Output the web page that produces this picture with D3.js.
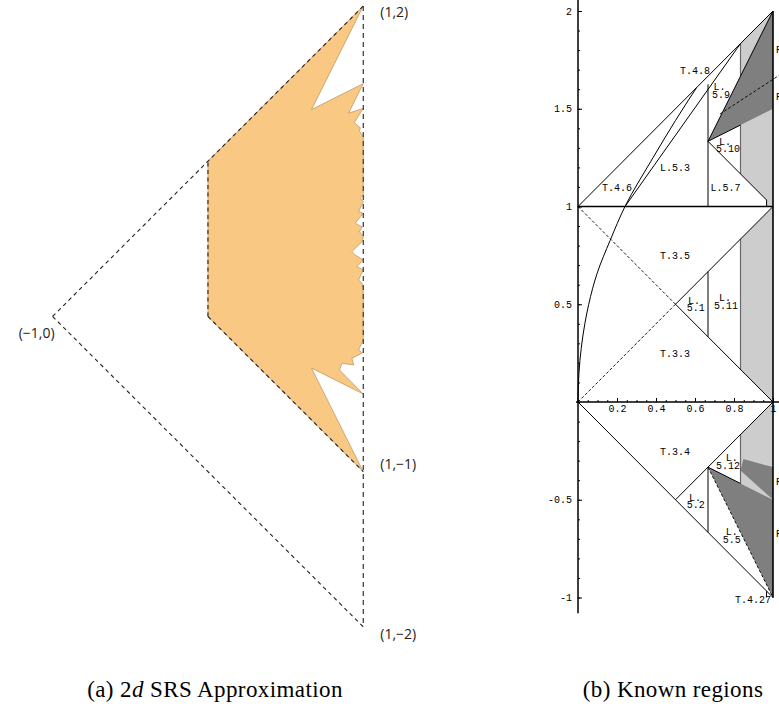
<!DOCTYPE html>
<html>
<head>
<meta charset="utf-8">
<script src="https://cdn.jsdelivr.net/npm/d3@7"></script>
<style>
  body { margin: 0; background: #fff; }
  svg { display: block; }
</style>
</head>
<body>
<svg id="fig" width="779" height="713"></svg>
<script>
// ---- (a) 2d SRS approximation: outline of the approximated region (clockwise from (0,1))
const approxOutline = [
  [0, 1], [1, 2], [0.667, 1.333], [1, 1.5], [0.905, 1.309], [1, 1.341], [0.942, 1.249],
  [0.981, 1.215], [0.975, 1.195], [1, 1.159], [1, 0.783], [0.981, 0.762], [1, 0.740],
  [0.970, 0.675], [1, 0.665], [0.948, 0.601], [0.992, 0.577], [0.976, 0.546], [1, 0.514],
  [0.992, 0.482], [0.927, 0.418], [0.948, 0.396], [1, 0.364], [0.959, 0.321], [1, 0.300],
  [0.970, 0.235], [0.992, 0.214], [1, 0.171], [1, -0.151], [0.970, -0.216], [0.994, -0.235],
  [0.948, -0.259], [0.927, -0.269], [0.938, -0.313], [0.863, -0.302], [0.847, -0.345],
  [1, -0.5], [0.667, -0.333], [1, -1], [0, 0]
];
// dashed outline of the triangle and of the known part
const triangleEdges = [
  [[-1, 0], [1, 2]], [[-1, 0], [1, -2]], [[0, 0], [0, 1]], [[0, 0], [1, -1]]
];
const rightEdge = [[1, 2], [1, -2]];
const cornerLabels = [
  { t: '(1,2)', x: 1, y: 2 },
  { t: '(1,\u22121)', x: 1, y: -1 },
  { t: '(1,\u22122)', x: 1, y: -2 }
];
const cornerShift = [11, -3, 12]; // vertical nudge of each corner label, px
const leftLabel = { t: '(\u22121,0)', x: -1, y: 0 };

// ---- (b) known regions
const lightRegions = [
  [[5/6, 11/6], [1, 2], [1, 1], [0.967, 1], [0.967, 1.033], [5/6, 7/6]],
  [[5/6, 5/6], [1, 1], [1, 0], [5/6, 1/6]],
  [[5/6, -1/6], [1, 0], [1, -0.5], [5/6, -0.4167]]
];
const darkRegions = [
  [[2/3, 4/3], [1, 2], [1, 1.5]],
  [[2/3, -1/3], [1, -0.5], [1, -1]],
  [[0.848, -0.292], [1, -0.333], [1, -0.5], [5/6, -0.35]]
];
const solidEdges = [
  [[0, 1], [1, 2]],
  [[2/3, 1], [2/3, 1.625]],
  [[2/3, 4/3], [0.967, 1.033]], [[0.967, 1.033], [0.967, 1]],
  [[2/3, 4/3], [1, 2]],
  [[2/3, 4/3], [5/6, 1.4167]],
  [[0.5, 0.5], [1, 0]],
  [[0.5, 0.5], [1, 1]],
  [[2/3, 1/3], [2/3, 2/3]],
  [[0, 0], [1, -1]],
  [[0.5, -0.5], [1, 0]],
  [[2/3, -1/3], [2/3, -2/3]],
  [[2/3, -1/3], [5/6, -0.4167]],
  [[0.967, -0.967], [0.967, -1]],
  [[0.241, 1], [5/6, 11/6]]
];
const thickEdges = [[[0, 1], [1, 1]], [[1, -1], [1, 2]]];
const dashedEdges = [
  [[0, 1], [0.5, 0.5]],
  [[0, 0], [0.5, 0.5]],
  [[2/3, -1/3], [1, -1]],
  [[0.728, 1.473], [1.03, 1.67]]
];
const stripEdges = [
  [[5/6, 7/6], [5/6, 1.4167]], [[5/6, 1.667], [5/6, 11/6]],
  [[5/6, 1/6], [5/6, 5/6]], [[5/6, -1/6], [5/6, -0.4167]]
];
const curvePts = [
  [0, 0], [0.005, 0.15], [0.035, 0.40], [0.055, 0.5], [0.098, 0.658], [0.165, 0.827],
  [0.241, 1.0], [0.385, 1.25], [0.50, 1.44], [0.608, 1.608]
];
const regionLabels = [
  { t: 'T.4.8', x: 0.60, y: 1.698 },
  { t: 'L.', x: 0.726, y: 1.616 }, { t: '5.9', x: 0.733, y: 1.575 },
  { t: 'L.', x: 0.754, y: 1.335 }, { t: '5.10', x: 0.769, y: 1.299 },
  { t: 'L.5.3', x: 0.497, y: 1.197 },
  { t: 'T.4.6', x: 0.20, y: 1.095 },
  { t: 'L.5.7', x: 0.757, y: 1.095 },
  { t: 'T.3.5', x: 0.497, y: 0.747 },
  { t: 'L.', x: 0.595, y: 0.517 }, { t: '5.1', x: 0.604, y: 0.481 },
  { t: 'L.', x: 0.754, y: 0.537 }, { t: '5.11', x: 0.759, y: 0.496 },
  { t: 'T.3.3', x: 0.497, y: 0.246 },
  { t: 'T.3.4', x: 0.497, y: -0.254 },
  { t: 'L.', x: 0.788, y: -0.286 }, { t: '5.12', x: 0.769, y: -0.326 },
  { t: 'L.', x: 0.60, y: -0.486 }, { t: '5.2', x: 0.604, y: -0.522 },
  { t: 'L.', x: 0.788, y: -0.663 }, { t: '5.5', x: 0.788, y: -0.701 },
  { t: 'T.4.27', x: 0.897, y: -1.008 }
];
// labels cut off by the right border
const edgeLabels = [
  { t: 'R', x: 1.015, y: 1.804 }, { t: 'R', x: 1.015, y: 1.562 },
  { t: 'R', x: 1.015, y: -0.408 }, { t: 'R', x: 1.015, y: -0.672 }
];
const yTicks = [-1, -0.5, 0.5, 1, 1.5, 2];
const xTicks = [0.2, 0.4, 0.6, 0.8, 1];

const mono = '"Liberation Mono", "DejaVu Sans Mono", monospace';
const svg = d3.select('#fig');

// ===== panel (a)
const xa = d3.scaleLinear().domain([-1, 1]).range([52.6, 363.3]);
const ya = d3.scaleLinear().domain([-2, 2]).range([626.9, 6]);
const ga = svg.append('g').attr('id', 'panel-a');
const lineA = d3.line().x(d => xa(d[0])).y(d => ya(d[1]));

ga.append('path')
  .attr('d', lineA(approxOutline) + 'Z')
  .attr('fill', '#f9c882')
  .attr('stroke', '#a88452')
  .attr('stroke-width', 0.6);

ga.selectAll('path.tri')
  .data(triangleEdges)
  .enter().append('path')
  .attr('class', 'tri')
  .attr('d', lineA)
  .attr('fill', 'none')
  .attr('stroke', '#222')
  .attr('stroke-width', 1.1)
  .attr('stroke-dasharray', '4,3.5');

ga.append('path')
  .attr('d', lineA(rightEdge))
  .attr('fill', 'none')
  .attr('stroke', '#444')
  .attr('stroke-width', 1.3)
  .attr('stroke-dasharray', '5,4');

ga.selectAll('text.corner')
  .data(cornerLabels)
  .enter().append('text')
  .attr('class', 'corner')
  .attr('x', d => xa(d.x) + 17)
  .attr('y', (d, i) => ya(d.y) + cornerShift[i])
  .attr('font-family', '"Open Sans", sans-serif')
  .attr('font-size', 14)
  .attr('fill', '#222')
  .text(d => d.t);

ga.append('text')
  .attr('x', xa(leftLabel.x) + 2)
  .attr('y', ya(leftLabel.y) + 22)
  .attr('text-anchor', 'end')
  .attr('font-family', '"Open Sans", sans-serif')
  .attr('font-size', 14)
  .attr('fill', '#222')
  .text(leftLabel.t);

// ===== panel (b)
const xb = d3.scaleLinear().domain([0, 1]).range([578, 773]);
const yb = d3.scaleLinear().domain([-1, 2]).range([597.5, 11]);
const gb = svg.append('g').attr('id', 'panel-b');
const lineB = d3.line().x(d => xb(d[0])).y(d => yb(d[1]));

gb.selectAll('path.light')
  .data(lightRegions)
  .enter().append('path')
  .attr('class', 'light')
  .attr('d', d => lineB(d) + 'Z')
  .attr('fill', '#cdcdcd');

gb.selectAll('path.dark')
  .data(darkRegions)
  .enter().append('path')
  .attr('class', 'dark')
  .attr('d', d => lineB(d) + 'Z')
  .attr('fill', '#7f7f7f');

gb.selectAll('path.strip')
  .data(stripEdges)
  .enter().append('path')
  .attr('class', 'strip')
  .attr('d', lineB)
  .attr('stroke', '#6a6a6a')
  .attr('stroke-width', 1.2);

gb.selectAll('path.solid')
  .data(solidEdges)
  .enter().append('path')
  .attr('class', 'solid')
  .attr('d', lineB)
  .attr('fill', 'none')
  .attr('stroke', '#000')
  .attr('stroke-width', 1);

gb.selectAll('path.thick')
  .data(thickEdges)
  .enter().append('path')
  .attr('class', 'thick')
  .attr('d', lineB)
  .attr('stroke', '#000')
  .attr('stroke-width', 1.6);

gb.selectAll('path.dashed')
  .data(dashedEdges)
  .enter().append('path')
  .attr('class', 'dashed')
  .attr('d', lineB)
  .attr('fill', 'none')
  .attr('stroke', '#000')
  .attr('stroke-width', 0.9)
  .attr('stroke-dasharray', '3,2');

gb.append('path')
  .attr('d', d3.line().x(d => xb(d[0])).y(d => yb(d[1])).curve(d3.curveMonotoneY)(curvePts))
  .attr('fill', 'none')
  .attr('stroke', '#000')
  .attr('stroke-width', 1);

// axes lines
gb.append('line')
  .attr('x1', xb(0)).attr('x2', xb(0))
  .attr('y1', yb(2.06)).attr('y2', yb(-1.08))
  .attr('stroke', '#000').attr('stroke-width', 1.5);
gb.append('line')
  .attr('x1', xb(-0.01)).attr('x2', 779)
  .attr('y1', yb(0)).attr('y2', yb(0))
  .attr('stroke', '#000').attr('stroke-width', 1.5);

// y axis: ticks point inward
const yAxisG = gb.append('g')
  .attr('transform', `translate(${xb(0)},0)`)
  .call(d3.axisLeft(yb).tickValues(yTicks).tickSize(-4).tickPadding(6).tickFormat(d => String(d)));
yAxisG.select('.domain').remove();
yAxisG.attr('font-family', mono).attr('font-size', 10);

const yMinor = gb.append('g')
  .attr('transform', `translate(${xb(0)},0)`)
  .call(d3.axisLeft(yb).tickValues(yb.ticks(30)).tickSize(-2).tickFormat(''));
yMinor.select('.domain').remove();

const xAxisG = gb.append('g')
  .attr('transform', `translate(0,${yb(0)})`)
  .call(d3.axisBottom(xb).tickValues(xTicks).tickSize(-4).tickPadding(3).tickFormat(d => String(d)));
xAxisG.select('.domain').remove();
xAxisG.attr('font-family', mono).attr('font-size', 10);

const xMinor = gb.append('g')
  .attr('transform', `translate(0,${yb(0)})`)
  .call(d3.axisBottom(xb).tickValues(xb.ticks(20)).tickSize(-2).tickFormat(''));
xMinor.select('.domain').remove();

gb.selectAll('text.region')
  .data(regionLabels)
  .enter().append('text')
  .attr('class', 'region')
  .attr('x', d => xb(d.x))
  .attr('y', d => yb(d.y))
  .attr('dy', '0.35em')
  .attr('text-anchor', 'middle')
  .attr('font-family', mono)
  .attr('font-size', 10)
  .attr('fill', '#000')
  .text(d => d.t);

gb.selectAll('text.edge')
  .data(edgeLabels)
  .enter().append('text')
  .attr('class', 'edge')
  .attr('x', d => xb(d.x))
  .attr('y', d => yb(d.y))
  .attr('dy', '0.35em')
  .attr('font-family', mono)
  .attr('font-size', 10)
  .text(d => d.t);

// captions
const capA = svg.append('text')
  .attr('x', 215).attr('y', 697)
  .attr('text-anchor', 'middle')
  .attr('font-family', '"Liberation Serif", serif')
  .attr('font-size', 23)
  .attr('letter-spacing', 0.4);
capA.append('tspan').text('(a) 2');
capA.append('tspan').attr('font-style', 'italic').text('d');
capA.append('tspan').text(' SRS Approximation');

svg.append('text')
  .attr('x', 673).attr('y', 697)
  .attr('text-anchor', 'middle')
  .attr('font-family', '"Liberation Serif", serif')
  .attr('font-size', 23)
  .attr('letter-spacing', 0.4)
  .text('(b) Known regions');
</script>
</body>
</html>
